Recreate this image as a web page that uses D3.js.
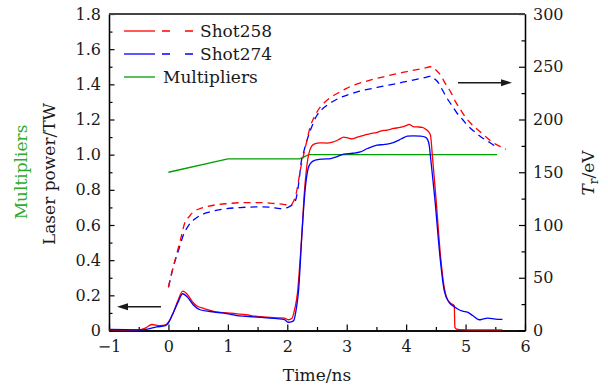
<!DOCTYPE html>
<html>
<head>
<meta charset="utf-8">
<script src="https://cdn.jsdelivr.net/npm/d3@7"></script>
<style>
  body { margin: 0; background: #fff; }
  svg { display: block; }
  text { font-family: "DejaVu Serif", serif; fill: #1a1a1a; }
</style>
</head>
<body>
<svg id="chart" width="608" height="392"></svg>
<script>
// ---- data ----
// Laser power (TW), Shot258
const shot258PowerTime = [-1, -0.7, -0.5, -0.38, -0.28, -0.14, -0.05, 0, 0.08, 0.16, 0.24, 0.32, 0.4, 0.48, 0.6, 0.82, 1.0, 1.15, 1.3, 1.49, 1.65, 1.83, 1.95, 2.02, 2.08, 2.13, 2.17, 2.22, 2.25, 2.28, 2.32, 2.38, 2.45, 2.56, 2.66, 2.76, 2.86, 2.95, 3.02, 3.09, 3.18, 3.29, 3.4, 3.5, 3.57, 3.68, 3.79, 3.9, 4.0, 4.05, 4.12, 4.19, 4.27, 4.33, 4.38, 4.41, 4.44, 4.5, 4.58, 4.64, 4.69, 4.75, 4.81, 4.82, 4.85, 4.9, 5.2, 5.62];
const shot258Power = [0.004, 0.004, 0.003, 0.015, 0.034, 0.028, 0.032, 0.047, 0.1, 0.17, 0.224, 0.205, 0.165, 0.139, 0.125, 0.104, 0.1, 0.095, 0.09, 0.08, 0.076, 0.072, 0.07, 0.061, 0.07, 0.13, 0.21, 0.42, 0.57, 0.75, 0.91, 1.026, 1.06, 1.067, 1.066, 1.071, 1.085, 1.1, 1.095, 1.09, 1.1, 1.11, 1.12, 1.125, 1.134, 1.14, 1.149, 1.155, 1.165, 1.172, 1.16, 1.158, 1.155, 1.145, 1.13, 1.11, 1.0, 0.76, 0.418, 0.247, 0.18, 0.155, 0.142, 0.019, 0.008, 0.005, 0.004, 0.004];

// Laser power (TW), Shot274
const shot274PowerTime = [-1, -0.7, -0.5, -0.35, -0.2, -0.05, 0, 0.08, 0.16, 0.24, 0.32, 0.42, 0.53, 0.7, 0.87, 1.0, 1.15, 1.3, 1.49, 1.65, 1.83, 1.95, 2.02, 2.08, 2.11, 2.15, 2.19, 2.25, 2.3, 2.35, 2.39, 2.47, 2.6, 2.73, 2.85, 2.95, 3.1, 3.23, 3.35, 3.51, 3.64, 3.74, 3.88, 3.95, 4.02, 4.12, 4.24, 4.32, 4.36, 4.39, 4.41, 4.48, 4.57, 4.64, 4.72, 4.79, 4.86, 4.95, 5.03, 5.12, 5.23, 5.3, 5.37, 5.5, 5.62];
const shot274Power = [0.006, 0.005, 0.003, 0.008, 0.02, 0.028, 0.044, 0.1, 0.16, 0.209, 0.19, 0.145, 0.118, 0.108, 0.101, 0.095, 0.085, 0.081, 0.076, 0.072, 0.067, 0.062, 0.047, 0.05, 0.057, 0.12, 0.228, 0.57, 0.8, 0.92, 0.95, 0.969, 0.975, 0.978, 0.99, 1.003, 1.008, 1.016, 1.035, 1.054, 1.058, 1.064, 1.083, 1.095, 1.105, 1.107, 1.105, 1.1, 1.087, 1.05, 0.987, 0.76, 0.418, 0.228, 0.161, 0.14, 0.124, 0.11, 0.104, 0.085, 0.061, 0.066, 0.07, 0.065, 0.063];

// Radiation temperature Tr (eV), Shot258
const shot258TrTime = [0, 0.05, 0.11, 0.2, 0.28, 0.35, 0.39, 0.45, 0.53, 0.65, 0.82, 1.0, 1.26, 1.55, 1.75, 1.94, 2.05, 2.11, 2.15, 2.19, 2.23, 2.28, 2.33, 2.38, 2.45, 2.52, 2.61, 2.72, 2.84, 2.98, 3.12, 3.3, 3.46, 3.62, 3.79, 3.96, 4.13, 4.3, 4.41, 4.44, 4.5, 4.58, 4.66, 4.75, 4.83, 4.92, 5.0, 5.09, 5.2, 5.31, 5.45, 5.58, 5.68];
const shot258Tr = [41, 53, 66.5, 85.4, 102.8, 108, 110.8, 113.5, 115.5, 117.5, 119.3, 120.3, 121.2, 121.2, 120.5, 119.6, 118.7, 123, 130, 142, 155, 167.7, 180, 192, 202, 209, 215.2, 220.5, 224.7, 229, 232.6, 235.8, 238.3, 240.5, 242.7, 244.8, 246.8, 248.5, 250, 250, 247, 242, 234, 226, 217, 208.9, 202, 196.2, 190.5, 185.1, 178.5, 174.5, 171.8];

// Radiation temperature Tr (eV), Shot274
const shot274TrTime = [0, 0.08, 0.17, 0.25, 0.34, 0.45, 0.55, 0.65, 0.8, 0.98, 1.2, 1.38, 1.55, 1.71, 1.88, 2.02, 2.1, 2.14, 2.17, 2.2, 2.23, 2.28, 2.33, 2.39, 2.5, 2.58, 2.67, 2.78, 2.9, 3.04, 3.18, 3.35, 3.51, 3.68, 3.85, 4.02, 4.19, 4.33, 4.42, 4.47, 4.53, 4.61, 4.69, 4.78, 4.86, 4.95, 5.03, 5.14, 5.26, 5.4, 5.52];
const shot274Tr = [41, 60, 76, 90.2, 99.7, 106, 109.5, 111.7, 113.8, 115.5, 116.5, 117, 117.2, 117, 115.5, 117, 120, 123.4, 131, 143, 158, 170, 180, 190, 204, 209.5, 213.6, 217.5, 220.9, 223.8, 226.3, 228.5, 230.4, 232.3, 234.2, 236.3, 238.3, 240, 241.2, 239, 235.8, 228, 220, 212.5, 205.7, 200, 194.6, 189, 183.5, 178.5, 174];

// Multipliers (left axis)
const multiplierTime = [0, 1, 2.21, 2.36, 5.53];
const multiplierValue = [0.9, 0.976, 0.976, 1.0, 1.0];

// ticks
const timeTicks = [-1, 0, 1, 2, 3, 4, 5, 6];
const timeTickLabels = ["\u22121", "0", "1", "2", "3", "4", "5", "6"];
const powerTicks = [0, 0.2, 0.4, 0.6, 0.8, 1.0, 1.2, 1.4, 1.6, 1.8];
const powerTickLabels = ["0", "0.2", "0.4", "0.6", "0.8", "1.0", "1.2", "1.4", "1.6", "1.8"];
const trTicks = [0, 50, 100, 150, 200, 250, 300];
const trTickLabels = ["0", "50", "100", "150", "200", "250", "300"];

// ---- layout ----
const RED = "#ff0000", BLUE = "#0000ff", GREEN = "#00a000", GREEN_TEXT = "#2eaa2e";
const svg = d3.select("#chart");
const plotLeft = 109, plotRight = 525, plotTop = 14, plotBottom = 330.5;

const x = d3.scaleLinear().domain([-1, 6]).range([plotLeft, plotRight]);
const yL = d3.scaleLinear().domain([0, 1.8]).range([plotBottom, plotTop]);
const yR = d3.scaleLinear().domain([0, 300]).range([plotBottom, plotTop]);

// ---- axes ----
function styleAxis(g) {
  g.selectAll("path.domain").attr("stroke", "#000").attr("stroke-width", 1.3);
  g.selectAll(".tick line").attr("stroke", "#000").attr("stroke-width", 1.2);
  g.selectAll("text").attr("font-family", "DejaVu Serif, serif").attr("font-size", 16).attr("fill", "#1a1a1a");
}

// minor ticks first
svg.append("g").attr("transform", `translate(0,${plotBottom})`)
  .call(d3.axisBottom(x).tickValues(d3.range(-0.5, 6, 1)).tickSize(-3.5).tickSizeOuter(0).tickFormat(""))
  .call(styleAxis);
svg.append("g").attr("transform", `translate(${plotLeft},0)`)
  .call(d3.axisLeft(yL).tickValues(d3.range(0.1, 1.8, 0.2)).tickSize(-3.5).tickSizeOuter(0).tickFormat(""))
  .call(styleAxis);
svg.append("g").attr("transform", `translate(${plotRight},0)`)
  .call(d3.axisRight(yR).tickValues(d3.range(25, 300, 50)).tickSize(-3.5).tickSizeOuter(0).tickFormat(""))
  .call(styleAxis);

// major ticks with labels
svg.append("g").attr("transform", `translate(0,${plotBottom})`)
  .call(d3.axisBottom(x).tickValues(timeTicks).tickSize(-6).tickSizeOuter(0).tickPadding(10)
    .tickFormat((d, i) => timeTickLabels[i]))
  .call(styleAxis);
svg.append("g").attr("transform", `translate(${plotLeft},0)`)
  .call(d3.axisLeft(yL).tickValues(powerTicks).tickSize(-5.5).tickSizeOuter(0).tickPadding(8)
    .tickFormat((d, i) => powerTickLabels[i]))
  .call(styleAxis);
svg.append("g").attr("transform", `translate(${plotRight},0)`)
  .call(d3.axisRight(yR).tickValues(trTicks).tickSize(-6).tickSizeOuter(0).tickPadding(8)
    .tickFormat((d, i) => trTickLabels[i]))
  .call(styleAxis);

// top frame
svg.append("line").attr("x1", plotLeft).attr("x2", plotRight).attr("y1", plotTop).attr("y2", plotTop)
  .attr("stroke", "#444").attr("stroke-width", 2);

// ---- series ----
const zip = (ts, vs) => ts.map((t, i) => [t, vs[i]]);
const lineL = d3.line().x(d => x(d[0])).y(d => yL(d[1])).curve(d3.curveMonotoneX);
const lineR = d3.line().x(d => x(d[0])).y(d => yR(d[1])).curve(d3.curveMonotoneX);
const lineLin = d3.line().x(d => x(d[0])).y(d => yL(d[1]));

const plot = svg.append("g").attr("fill", "none").attr("stroke-width", 1.3);

plot.append("path").datum(zip(multiplierTime, multiplierValue))
  .attr("d", lineLin).attr("stroke", GREEN);

plot.append("path").datum(zip(shot274TrTime, shot274Tr))
  .attr("d", lineR).attr("stroke", BLUE).attr("stroke-dasharray", "7,5");
plot.append("path").datum(zip(shot258TrTime, shot258Tr))
  .attr("d", lineR).attr("stroke", RED).attr("stroke-dasharray", "7,5");

plot.append("path").datum(zip(shot258PowerTime, shot258Power))
  .attr("d", lineL).attr("stroke", RED);
plot.append("path").datum(zip(shot274PowerTime, shot274Power))
  .attr("d", lineL).attr("stroke", BLUE);

// ---- axis direction arrows ----
function arrow(x1, x2, yy) {
  const dir = Math.sign(x2 - x1);
  svg.append("line").attr("x1", x1).attr("x2", x2 - dir * 8).attr("y1", yy).attr("y2", yy)
    .attr("stroke", "#1a1a1a").attr("stroke-width", 1.5);
  svg.append("path")
    .attr("d", `M${x2},${yy} L${x2 - dir * 11},${yy - 3.5} L${x2 - dir * 11},${yy + 3.5} Z`)
    .attr("fill", "#1a1a1a");
}
arrow(161, 117, 306.7);
arrow(458, 512, 82.7);

// ---- legend ----
const legend = svg.append("g");
const legendRows = [
  { color: RED, label: "Shot258", y: 31, dashed: true, tx: 200 },
  { color: BLUE, label: "Shot274", y: 54, dashed: true, tx: 200 },
  { color: GREEN, label: "Multipliers", y: 77, dashed: false, tx: 163 }
];
legendRows.forEach(r => {
  legend.append("line").attr("x1", 124).attr("x2", 155).attr("y1", r.y).attr("y2", r.y)
    .attr("stroke", r.color).attr("stroke-width", 1.3);
  if (r.dashed) {
    legend.append("line").attr("x1", 162).attr("x2", 193).attr("y1", r.y).attr("y2", r.y)
      .attr("stroke", r.color).attr("stroke-width", 1.3).attr("stroke-dasharray", "8,15");
  }
  legend.append("text").attr("x", r.tx).attr("y", r.y + 6).attr("font-size", 17).text(r.label);
});

// ---- axis titles ----
svg.append("text").attr("x", 317).attr("y", 381).attr("text-anchor", "middle")
  .attr("font-size", 17).text("Time/ns");
svg.append("text").attr("transform", "translate(55,174) rotate(-90)").attr("text-anchor", "middle")
  .attr("font-size", 17).text("Laser power/TW");
svg.append("text").attr("transform", "translate(27,172) rotate(-90)").attr("text-anchor", "middle")
  .attr("font-size", 17).style("fill", GREEN_TEXT).text("Multipliers");
const trTitle = svg.append("text").attr("transform", "translate(594,173) rotate(-90)")
  .attr("text-anchor", "middle").attr("font-size", 17);
trTitle.append("tspan").attr("font-style", "italic").text("T");
trTitle.append("tspan").attr("font-size", 12).attr("dy", 4).text("r");
trTitle.append("tspan").attr("dy", -4).text("/eV");
</script>
</body>
</html>
